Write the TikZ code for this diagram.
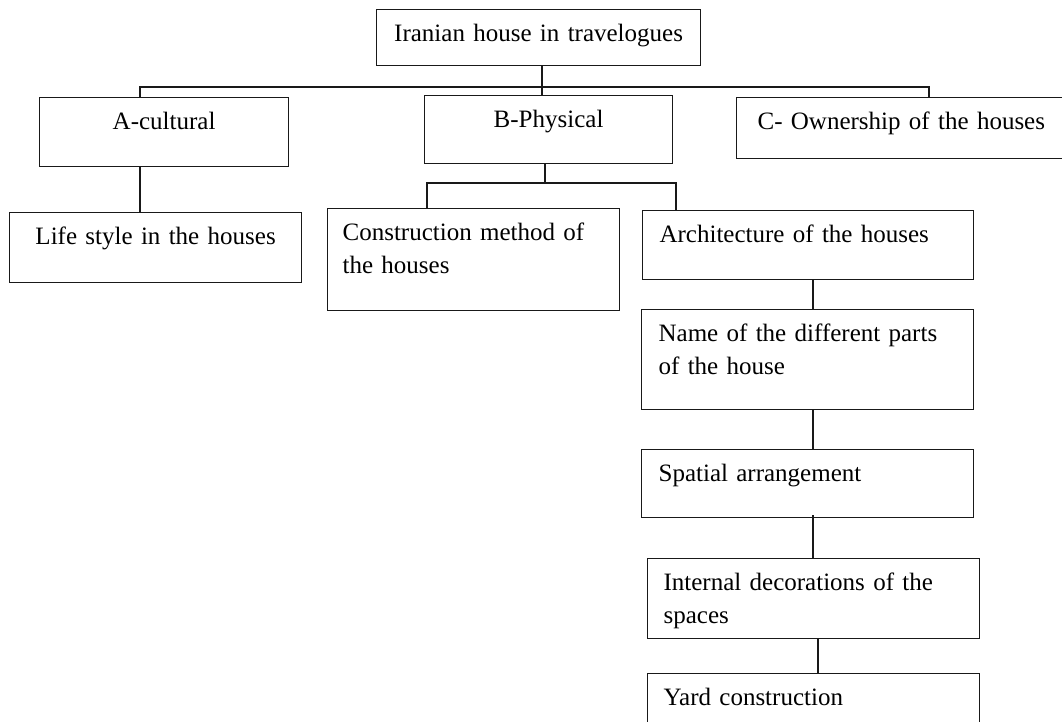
\documentclass[tikz,border=0pt]{standalone}
\usepackage{fontspec}
\setmainfont{Liberation Serif}
\begin{document}
\begin{tikzpicture}[x=1pt,y=-1pt,
  box/.style={draw=black!90, line width=1.2pt, anchor=north west, inner ysep=14pt,
    text height=18pt, font=\fontsize{25}{33}\selectfont},
  link/.style={draw=black!90, line width=1.1pt}]
\useasboundingbox (0,0) rectangle (1062,722);
\clip (0,0) rectangle (1062,722);
% level 0
\node[box, align=center, inner xsep=10pt, text width=304pt, text depth=10pt] (top) at (376,9) {Iranian house in travelogues};
% level 1
\node[box, align=center, inner xsep=10pt, text width=229pt, text depth=23pt] (A) at (39,97) {A-cultural};
\node[box, align=center, inner xsep=10pt, text width=228pt, text depth=22pt] (B) at (424,95) {B-Physical};
\node[box, align=left, inner xsep=21pt, text width=288pt, text depth=15pt] (C) at (736,97) {C- Ownership of the houses};
% level 2
\node[box, align=center, inner xsep=10pt, text width=272pt, text depth=24pt] (L) at (9,212) {Life style in the houses};
\node[box, align=left, inner xsep=15pt, text width=262pt, text depth=56pt] (Con) at (327,208) {Construction method of\\the houses};
\node[box, align=left, inner xsep=17pt, text width=297pt, text depth=23pt] (Arch) at (642,210) {Architecture of the houses};
% architecture chain
\node[box, align=left, inner xsep=17pt, text width=298pt, text depth=54pt] (Name) at (641,309) {Name of the different parts\\of the house};
\node[box, align=left, inner xsep=17pt, text width=298pt, text depth=22pt] (Sp) at (641,449) {Spatial arrangement};
\node[box, align=left, inner xsep=16pt, text width=300pt, text depth=34pt] (Int) at (647,558) {Internal decorations of the\\spaces};
\node[box, align=left, inner xsep=16pt, text width=300pt, text depth=40pt] (Yard) at (647,673) {Yard construction};
% connector junctions
\coordinate (j1) at (542,87);
\coordinate (aL) at (140,87);
\coordinate (cR) at (929,87);
\coordinate (j2) at (545,183);
\coordinate (bL) at (427,183);
\coordinate (bR) at (676,183);
\coordinate (v1) at (813,0);
\coordinate (v2) at (818,0);
% connectors
\draw[link] (top.south -| j1) -- (j1) -- (B.north -| j1);
\draw[link] (A.north -| aL) -- (aL) -- (cR) -- (C.north -| cR);
\draw[link] (A.south -| aL) -- (L.north -| aL);
\draw[link] (B.south -| j2) -- (j2);
\draw[link] (Con.north -| bL) -- (bL) -- (bR) -- (Arch.north -| bR);
\draw[link] (Arch.south -| v1) -- (Name.north -| v1);
\draw[link] (Name.south -| v1) -- (Sp.north -| v1);
\draw[link] ([yshift=3pt]Sp.south -| v1) -- (Int.north -| v1);
\draw[link] (Int.south -| v2) -- (Yard.north -| v2);
\end{tikzpicture}
\end{document}
